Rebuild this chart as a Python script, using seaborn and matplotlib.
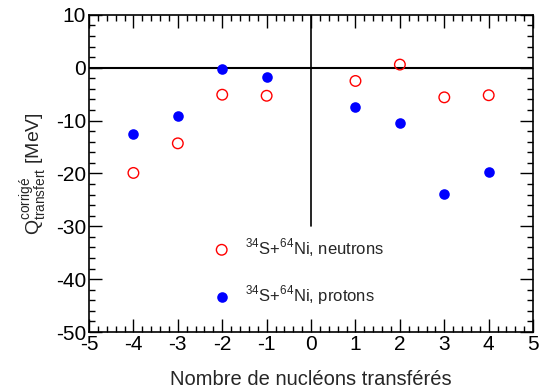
import numpy as np
import pandas as pd
import seaborn as sns
import matplotlib.pyplot as plt
from matplotlib.ticker import MultipleLocator

# nucleons transferred
nucleons = [-4, -3, -2, -1, 1, 2, 3, 4]
# corrected Q values (MeV)
q_neutrons = [-19.9, -14.3, -5.1, -5.3, -2.5, 0.6, -5.6, -5.2]
q_protons = [-12.6, -9.2, -0.3, -1.7, -7.5, -10.4, -23.8, -19.7]

label_n = r'$^{34}$S+$^{64}$Ni, neutrons'
label_p = r'$^{34}$S+$^{64}$Ni, protons'

df_n = pd.DataFrame({'n': nucleons, 'q': q_neutrons})
df_p = pd.DataFrame({'n': nucleons, 'q': q_protons})

sns.set_style('ticks')
plt.rcParams['font.family'] = ['Liberation Sans', 'DejaVu Sans']
plt.rcParams['mathtext.fontset'] = 'custom'
plt.rcParams['mathtext.rm'] = 'Liberation Sans'
plt.rcParams['axes.unicode_minus'] = False

fig = plt.figure(figsize=(5.44, 3.92), dpi=100)
ax = fig.add_axes([0.1636, 0.153, 0.8164, 0.809])

# reference lines
ax.axhline(0, color='black', lw=1.5, zorder=1)
ax.plot([0, 0], [10, -30], color='black', lw=1.2, zorder=1)

sns.scatterplot(data=df_n, x='n', y='q', ax=ax, color='red', s=58,
                linewidth=1.0, label=label_n, zorder=3)
coll_n = ax.collections[-1]
coll_n.set_facecolor('none')
coll_n.set_edgecolor('red')

sns.scatterplot(data=df_p, x='n', y='q', ax=ax, color='blue', s=58,
                linewidth=0, label=label_p, zorder=3)

ax.set_xlim(-5, 5)
ax.set_ylim(-50, 10)
ax.xaxis.set_major_locator(MultipleLocator(1))
ax.xaxis.set_minor_locator(MultipleLocator(0.2))
ax.yaxis.set_major_locator(MultipleLocator(10))
ax.yaxis.set_minor_locator(MultipleLocator(2))
ax.tick_params(which='both', direction='in', top=True, right=True,
               labelsize=15, colors='black', width=1)
ax.tick_params(which='major', length=9.5, pad=2)
ax.tick_params(which='minor', length=4.5)
for sp in ax.spines.values():
    sp.set_linewidth(1.2)
    sp.set_color('black')

ax.set_xlabel('Nombre de nucléons transférés', fontsize=14.5, labelpad=12)
ax.set_ylabel(r'Q$^{\rm corrigé}_{\rm transfert}$ [MeV]', fontsize=14, labelpad=4)

leg = ax.legend(loc='center left', bbox_to_anchor=(0.28, 0.19), frameon=False,
                fontsize=12, handlelength=1.0, handletextpad=0.9,
                labelspacing=1.5, borderpad=0, borderaxespad=0)

fig.savefig('out.png', dpi=100)
